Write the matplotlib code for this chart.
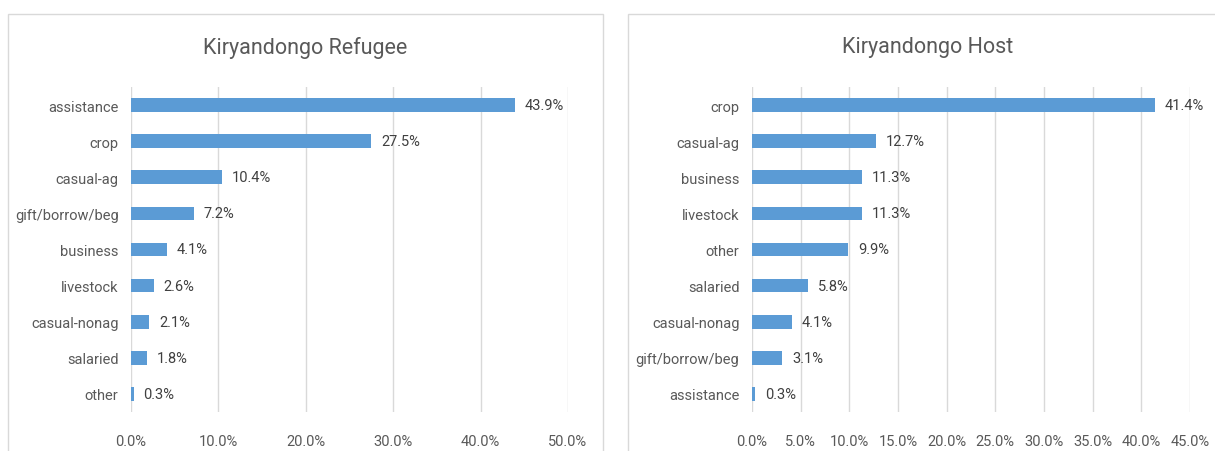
import matplotlib
matplotlib.use("Agg")
import matplotlib.pyplot as plt
from matplotlib.patches import Rectangle
from matplotlib.ticker import FuncFormatter, MultipleLocator

plt.rcParams['font.family'] = ['Liberation Sans Narrow', 'DejaVu Sans Condensed',
                               'Roboto', 'DejaVu Sans']

refugee_cats = ["assistance", "crop", "casual-ag", "gift/borrow/beg", "business",
                "livestock", "casual-nonag", "salaried", "other"]
refugee_vals = [43.9, 27.5, 10.4, 7.2, 4.1, 2.6, 2.1, 1.8, 0.3]

host_cats = ["crop", "casual-ag", "business", "livestock", "other",
             "salaried", "casual-nonag", "gift/borrow/beg", "assistance"]
host_vals = [41.4, 12.7, 11.3, 11.3, 9.9, 5.8, 4.1, 3.1, 0.3]

BAR = "#5B9BD5"
GRID = "#D9D9D9"
TXT = "#595959"

fig = plt.figure(figsize=(12.15, 4.52), dpi=100)

# chart-area frames
for x0, w in [(8, 595), (628, 600)]:
    fig.patches.append(Rectangle((x0 / 1215, -0.05), w / 1215, 1 - 15 / 452 + 0.05,
                                 transform=fig.transFigure, fill=False,
                                 edgecolor=GRID, linewidth=1.0))


def panel(rect, cats, vals, title, xmax, step, title_x):
    ax = fig.add_axes(rect)
    y = list(range(len(cats)))
    ax.barh(y, vals, height=0.38, color=BAR, zorder=3)
    ax.set_ylim(len(cats) - 0.5, -0.5)
    ax.set_xlim(0, xmax)
    ax.xaxis.set_major_locator(MultipleLocator(step))
    ax.xaxis.set_major_formatter(FuncFormatter(lambda v, p: f"{v:.1f}%"))
    ax.set_yticks(y)
    ax.set_yticklabels(cats)
    ax.grid(axis="x", color=GRID, linewidth=1.0, zorder=0)
    for s in ax.spines.values():
        s.set_visible(False)
    ax.tick_params(axis="both", length=0, colors=TXT, labelsize=10.5)
    ax.tick_params(axis="x", pad=16)
    ax.tick_params(axis="y", pad=9)
    for yi, v in zip(y, vals):
        ax.annotate(f"{v:.1f}%", (v, yi), xytext=(7, 0), textcoords="offset points",
                    va="center", ha="left", fontsize=10.5, color="#404040")
    fig.text(title_x, 1 - 48 / 452, title, ha="center", va="center",
             fontsize=15.5, color=TXT)
    return ax


bottom = 1 - 413 / 452
height = (413 - 88) / 452
panel([131 / 1215, bottom, (568 - 131) / 1215, height],
      refugee_cats, refugee_vals, "Kiryandongo Refugee", 50, 10, 305 / 1215)
panel([752 / 1215, bottom, (1190 - 752) / 1215, height],
      host_cats, host_vals, "Kiryandongo Host", 45, 5, 928 / 1215)

fig.savefig("out.png", dpi=100, facecolor="white")
